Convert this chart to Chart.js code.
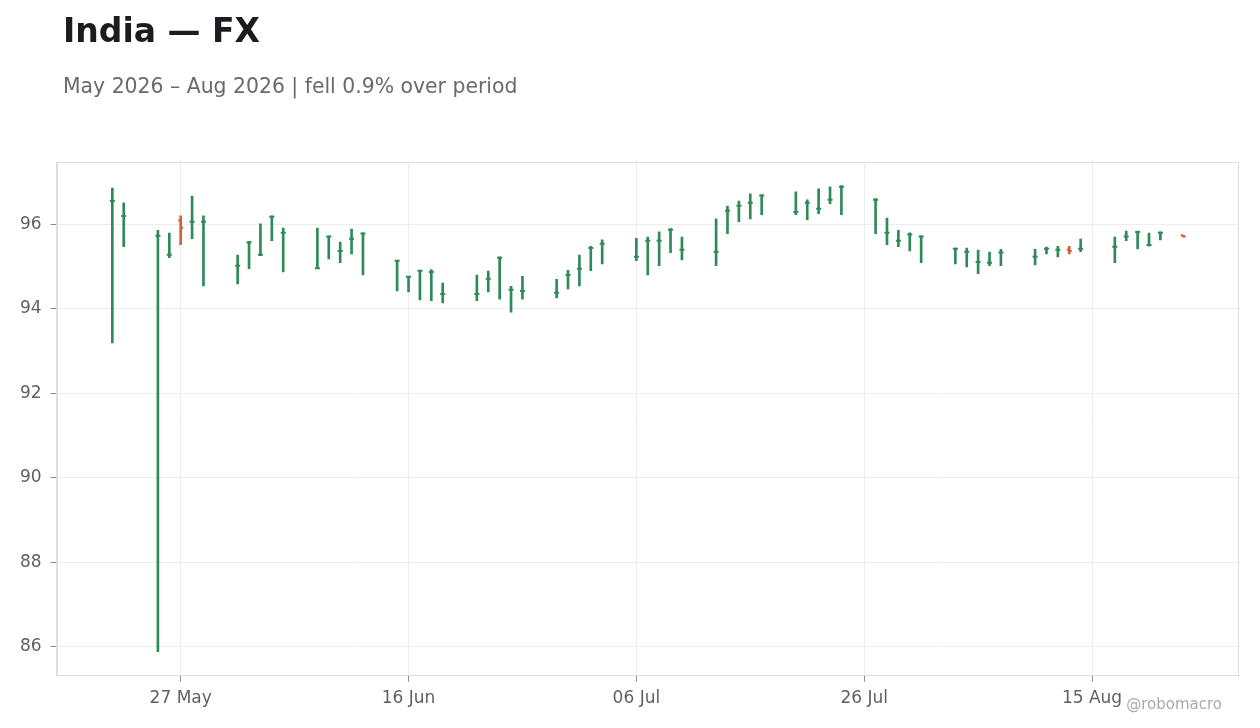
<!DOCTYPE html>
<html>
<head>
<meta charset="utf-8">
<title>India — FX</title>
<script src="https://cdn.jsdelivr.net/npm/chart.js@4.4.1/dist/chart.umd.min.js"></script>
<style>
    html, body { margin: 0; padding: 0; background: #ffffff; }
    #wrap { position: relative; width: 1260px; height: 728px; font-family: 'DejaVu Sans', sans-serif; }
    #title { position: absolute; left: 63px; top: 14px; font-size: 33px; font-weight: bold; line-height: 1; color: #1b1b20; }
    #subtitle { position: absolute; left: 63px; top: 76px; font-size: 20.4px; line-height: 1; color: #696970; }
    #credit { position: absolute; right: 38px; top: 697px; font-size: 15px; line-height: 1; color: #a9a9ae; }
    #chartBox { position: absolute; left: 0; top: 0; width: 1260px; height: 728px; }
</style>
</head>
<body>
<div id="wrap">
    <div id="chartBox"><canvas id="fxChart"></canvas></div>
    <div id="title">India — FX</div>
    <div id="subtitle">May 2026 – Aug 2026 | fell 0.9% over period</div>
    <div id="credit">@robomacro</div>
</div>
<script>
var dates = [
    '2026-05-21','2026-05-22','2026-05-25','2026-05-26','2026-05-27','2026-05-28','2026-05-29',
    '2026-06-01','2026-06-02','2026-06-03','2026-06-04','2026-06-05',
    '2026-06-08','2026-06-09','2026-06-10','2026-06-11','2026-06-12',
    '2026-06-15','2026-06-16','2026-06-17','2026-06-18','2026-06-19',
    '2026-06-22','2026-06-23','2026-06-24','2026-06-25','2026-06-26',
    '2026-06-29','2026-06-30','2026-07-01','2026-07-02','2026-07-03',
    '2026-07-06','2026-07-07','2026-07-08','2026-07-09','2026-07-10',
    '2026-07-13','2026-07-14','2026-07-15','2026-07-16','2026-07-17',
    '2026-07-20','2026-07-21','2026-07-22','2026-07-23','2026-07-24',
    '2026-07-27','2026-07-28','2026-07-29','2026-07-30','2026-07-31',
    '2026-08-03','2026-08-04','2026-08-05','2026-08-06','2026-08-07',
    '2026-08-10','2026-08-11','2026-08-12','2026-08-13','2026-08-14',
    '2026-08-17','2026-08-18','2026-08-19','2026-08-20','2026-08-21',
    '2026-08-23'
];
var highs = [
    96.86, 96.51, 95.86, 95.79, 96.20, 96.67, 96.20,
    95.27, 95.60, 96.01, 96.20, 95.91,
    95.91, 95.72, 95.58, 95.89, 95.80,
    95.15, 94.77, 94.91, 94.93, 94.61,
    94.80, 94.89, 95.23, 94.53, 94.77,
    94.70, 94.91, 95.27, 95.48, 95.63,
    95.67, 95.70, 95.82, 95.90, 95.70,
    96.13, 96.43, 96.55, 96.72, 96.70,
    96.77, 96.58, 96.84, 96.89, 96.92,
    96.61, 96.15, 95.86, 95.80, 95.73,
    95.44, 95.44, 95.39, 95.34, 95.41,
    95.41, 95.46, 95.48, 95.48, 95.65,
    95.70, 95.84, 95.84, 95.79, 95.82,
    95.74
];
var lows = [
    93.19, 95.47, 85.88, 95.21, 95.52, 95.66, 94.54,
    94.59, 94.95, 95.26, 95.61, 94.87,
    94.96, 95.18, 95.09, 95.30, 94.80,
    94.42, 94.40, 94.21, 94.19, 94.14,
    94.19, 94.40, 94.23, 93.92, 94.23,
    94.26, 94.47, 94.54, 94.90, 95.06,
    95.14, 94.80, 95.02, 95.33, 95.16,
    95.02, 95.78, 96.06, 96.13, 96.23,
    96.23, 96.11, 96.25, 96.49, 96.23,
    95.78, 95.52, 95.47, 95.37, 95.09,
    95.06, 94.99, 94.83, 95.02, 95.02,
    95.04, 95.30, 95.23, 95.30, 95.35,
    95.09, 95.61, 95.42, 95.48, 95.63,
    95.70
];
var opens = [
    96.55, 96.20, 95.73, 95.28, 96.09, 96.06, 96.06,
    95.02, 95.57, 95.28, 96.18, 95.80,
    94.96, 95.71, 95.37, 95.66, 95.78,
    95.14, 94.76, 94.90, 94.87, 94.35,
    94.35, 94.71, 95.21, 94.45, 94.42,
    94.38, 94.80, 94.95, 95.44, 95.54,
    95.23, 95.61, 95.61, 95.87, 95.40,
    95.35, 96.32, 96.44, 96.51, 96.68,
    96.29, 96.51, 96.37, 96.58, 96.89,
    96.58, 95.80, 95.61, 95.76, 95.71,
    95.42, 95.35, 95.11, 95.09, 95.33,
    95.23, 95.42, 95.40, 95.40, 95.42,
    95.47, 95.71, 95.82, 95.51, 95.80,
    95.74
];
var closes = [
    96.55, 96.20, 95.73, 95.28, 95.92, 96.06, 96.06,
    95.02, 95.57, 95.28, 96.18, 95.80,
    94.96, 95.71, 95.37, 95.66, 95.78,
    95.14, 94.76, 94.90, 94.87, 94.35,
    94.35, 94.71, 95.21, 94.45, 94.42,
    94.38, 94.80, 94.95, 95.44, 95.54,
    95.23, 95.61, 95.61, 95.87, 95.40,
    95.35, 96.32, 96.44, 96.51, 96.68,
    96.29, 96.51, 96.37, 96.58, 96.89,
    96.58, 95.80, 95.61, 95.76, 95.71,
    95.42, 95.35, 95.11, 95.09, 95.33,
    95.23, 95.42, 95.40, 95.37, 95.42,
    95.47, 95.71, 95.82, 95.51, 95.80,
    95.71
];
var xTickDates = ['2026-05-27', '2026-06-16', '2026-07-06', '2026-07-26', '2026-08-15'];
var xTickLabels = ['27 May', '16 Jun', '06 Jul', '26 Jul', '15 Aug'];
var yTickValues = [86, 88, 90, 92, 94, 96];

var upColor = '#2e8b57';
var downColor = '#d4603c';

// day number since epoch, so the x axis can stay linear
function dayNum(s) {
    var p = s.split('-');
    return Date.UTC(+p[0], +p[1] - 1, +p[2]) / 86400000;
}

function barColor(i) {
    return closes[i] < opens[i] ? downColor : upColor;
}

var colors = dates.map(function(d, i) { return barColor(i); });

var rangeData = dates.map(function(d, i) {
    return { x: dayNum(d), y: [lows[i], highs[i]] };
});
var openData = dates.map(function(d, i) {
    return { x: dayNum(d), y: opens[i] };
});
var closeData = dates.map(function(d, i) {
    return { x: dayNum(d), y: closes[i] };
});

// white plot area with a light frame on all four sides
var plotFrame = {
    id: 'plotFrame',
    beforeDraw: function(chart) {
        var a = chart.chartArea, ctx = chart.ctx;
        ctx.save();
        ctx.fillStyle = '#ffffff';
        ctx.fillRect(a.left, a.top, a.right - a.left, a.bottom - a.top);
        ctx.restore();
    },
    beforeDatasetsDraw: function(chart) {
        var a = chart.chartArea, ctx = chart.ctx;
        ctx.save();
        ctx.strokeStyle = '#dedede';
        ctx.lineWidth = 1;
        ctx.strokeRect(Math.round(a.left) + 0.5, Math.round(a.top) + 0.5,
            Math.round(a.right - a.left) - 1, Math.round(a.bottom - a.top) - 1);
        ctx.restore();
    }
};

Chart.defaults.font.family = "'DejaVu Sans', sans-serif";
Chart.defaults.font.size = 17;
Chart.defaults.color = '#5f5f69';

var fxChart = new Chart(document.getElementById('fxChart').getContext('2d'), {
    type: 'bar',
    data: {
        datasets: [
            {
                label: 'High-Low',
                data: rangeData,
                backgroundColor: colors,
                borderWidth: 0,
                barThickness: 2,
                grouped: false,
                order: 2
            },
            {
                type: 'line',
                label: 'Open',
                data: openData,
                showLine: false,
                pointStyle: 'dash',
                pointRotation: 180,
                pointRadius: 2.5,
                pointBorderWidth: 2,
                pointBorderColor: colors,
                pointBackgroundColor: colors,
                order: 1
            },
            {
                type: 'line',
                label: 'Close',
                data: closeData,
                showLine: false,
                pointStyle: 'dash',
                pointRotation: 0,
                pointRadius: 2.5,
                pointBorderWidth: 2,
                pointBorderColor: colors,
                pointBackgroundColor: colors,
                order: 1
            }
        ]
    },
    options: {
        responsive: true,
        maintainAspectRatio: false,
        animation: false,
        layout: {
            padding: { left: 11, right: 21, top: 162, bottom: 12 }
        },
        plugins: {
            legend: { display: false },
            tooltip: { enabled: false }
        },
        scales: {
            x: {
                type: 'linear',
                offset: false,
                min: dayNum(xTickDates[0]) - 10.89,
                max: dayNum(xTickDates[4]) + 12.9,
                afterBuildTicks: function(scale) {
                    scale.ticks = xTickDates.map(function(d) { return { value: dayNum(d) }; });
                },
                ticks: {
                    autoSkip: false,
                    maxRotation: 0,
                    padding: 7,
                    callback: function(value) {
                        var k = xTickDates.map(dayNum).indexOf(value);
                        return k >= 0 ? xTickLabels[k] : '';
                    }
                },
                grid: {
                    offset: false,
                    color: '#ededed',
                    tickColor: '#8a8a92',
                    tickLength: 6
                },
                border: { color: '#dedede' }
            },
            y: {
                min: 85.313,
                max: 97.476,
                afterBuildTicks: function(scale) {
                    scale.ticks = yTickValues.map(function(v) { return { value: v }; });
                },
                ticks: {
                    padding: 9,
                    callback: function(value) { return value; }
                },
                grid: {
                    color: '#ededed',
                    tickColor: '#8a8a92',
                    tickLength: 6
                },
                border: { color: '#dedede' }
            }
        }
    },
    plugins: [plotFrame]
});
</script>
</body>
</html>
